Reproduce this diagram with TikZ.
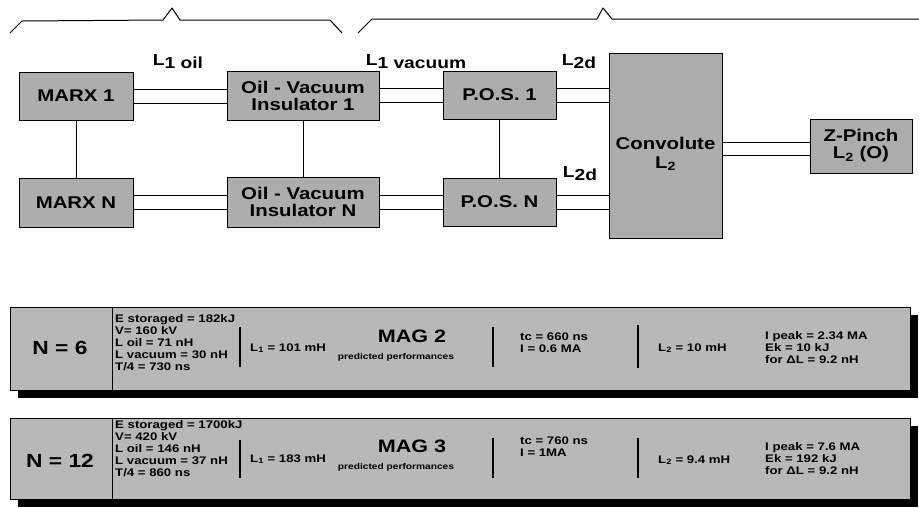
\documentclass[tikz,border=0pt]{standalone}
\usepackage{fontspec}
\setmainfont{Liberation Sans}[FakeStretch=1.2]
\definecolor{boxgray}{gray}{0.68}
\definecolor{tabgray}{gray}{0.72}
\begin{document}
\begin{tikzpicture}[x=1pt,y=-1pt,
  box/.style={draw=black, line width=0.9pt, fill=boxgray, align=center, inner sep=0pt,
    font=\fontsize{17}{17}\selectfont\bfseries},
  lbl/.style={inner sep=0pt, font=\fontsize{16}{16}\selectfont\bfseries},
  conn/.style={line width=0.9pt},
  brace/.style={line width=1pt, line join=round},
  tab/.style={draw=black, line width=0.9pt, fill=tabgray, inner sep=0pt, minimum width=900pt},
  shadowbox/.style={fill=black, inner sep=0pt, minimum width=900pt},
  small/.style={inner sep=0pt, align=left, anchor=west, font=\fontsize{11}{12}\selectfont\bfseries},
  big/.style={inner sep=0pt, font=\fontsize{19}{19}\selectfont\bfseries},
  mag/.style={inner sep=0pt, font=\fontsize{18}{18}\selectfont\bfseries},
  pred/.style={inner sep=0pt, font=\fontsize{8.5}{9}\selectfont\bfseries},
  divider/.style={line width=1.6pt}
]
\useasboundingbox (0,0) rectangle (919,507);

% braces
\draw[brace] (10,33) -- (22,21) -- (163,20) -- (172,8) -- (180,20) -- (330,20) -- (342,33);
\draw[brace] (358,33) -- (372,19) -- (597,19) -- (603,8) -- (612,19) -- (919,19);

% boxes
\node[box, minimum width=114pt, minimum height=48pt] (m1) at (76,96) {MARX 1};
\node[box, minimum width=114pt, minimum height=49pt] (mN) at (76,202.5) {MARX N};
\node[box, minimum width=152pt, minimum height=49pt] (i1) at (303,95.5) {Oil - Vacuum\\Insulator 1};
\node[box, minimum width=152pt, minimum height=50pt] (iN) at (303,202) {Oil - Vacuum\\Insulator N};
\node[box, minimum width=113pt, minimum height=48pt] (p1) at (499.5,95) {P.O.S. 1};
\node[box, minimum width=113pt, minimum height=48pt] (pN) at (499.5,202) {P.O.S. N};
\node[box, minimum width=113pt, minimum height=185pt] (cv) at (665.5,145.5) {\rule{0pt}{0pt}\\[12pt]Convolute\\[2pt]L\textsubscript{2}};
\node[box, minimum width=102pt, minimum height=54pt] (zp) at (861,146) {Z-Pinch\\L\textsubscript{2} (O)};

% labels
\node[lbl] (l1) at (178,62) {\raisebox{3pt}{L}1 oil};
\node[lbl] (l2) at (416,62) {\raisebox{3pt}{L}1 vacuum};
\node[lbl] (l3) at (579,62) {\raisebox{3pt}{L}2d};
\node[lbl] (l4) at (580,174) {\raisebox{3pt}{L}2d};

% double connectors
\foreach \s in {7,-7} {
  \draw[conn] ([yshift=\s pt]m1.east) -- ([yshift=\s pt]m1.east -| i1.west);
  \draw[conn] ([yshift=\s pt]mN.east) -- ([yshift=\s pt]mN.east -| iN.west);
  \draw[conn] ([yshift=\s pt]i1.east) -- ([yshift=\s pt]i1.east -| p1.west);
  \draw[conn] ([yshift=\s pt]iN.east) -- ([yshift=\s pt]iN.east -| pN.west);
  \draw[conn] ([yshift=\s pt]p1.east) -- ([yshift=\s pt]p1.east -| cv.west);
  \draw[conn] ([yshift=\s pt]pN.east) -- ([yshift=\s pt]pN.east -| cv.west);
}
\draw[conn] ([yshift=4pt]zp.west -| cv.east) -- ([yshift=4pt]zp.west);
\draw[conn] ([yshift=-9pt]zp.west -| cv.east) -- ([yshift=-9pt]zp.west);

% vertical links
\draw[conn] (m1.south) -- (mN.north);
\draw[conn] (i1.south) -- (iN.north);
\draw[conn] (p1.south) -- (pN.north);

% table 1
\node[shadowbox, minimum height=83pt] (s1) at (468,356.5) {};
\node[tab, minimum height=83pt] (t1) at (460,348.5) {};
\draw[conn] (112,307) -- (112,390);
\node[big] (n1) at (60,348) {N = 6};
\node[small] (a1) at (115,343) {E storaged = 182kJ\\V= 160 kV\\L oil = 71 nH\\L vacuum = 30 nH\\T/4 = 730 ns};
\draw[divider] (240,327) -- (240,367);
\node[small] (b1) at (250,348) {L\textsubscript{1} = 101 mH};
\node[mag] (c1) at (412,336) {MAG 2};
\node[pred] (d1) at (396,357) {predicted performances};
\draw[divider] (493,327) -- (493,367);
\node[small] (e1) at (520,343) {tc = 660 ns\\I = 0.6 MA};
\draw[divider] (638,325) -- (638,368);
\node[small] (f1) at (658,348) {L\textsubscript{2} = 10 mH};
\node[small] (g1) at (765,348) {I peak = 2.34 MA\\Ek = 10 kJ\\for ΔL = 9.2 nH};

% table 2
\node[shadowbox, minimum height=81pt] (s2) at (468,466.5) {};
\node[tab, minimum height=81pt] (t2) at (460,458.5) {};
\draw[conn] (112,418) -- (112,499);
\node[big] (n2) at (60,461) {N = 12};
\node[small] (a2) at (115,449) {E storaged = 1700kJ\\V= 420 kV\\L oil = 146 nH\\L vacuum = 37 nH\\T/4 = 860 ns};
\draw[divider] (240,440) -- (240,478);
\node[small] (b2) at (250,459) {L\textsubscript{1} = 183 mH};
\node[mag] (c2) at (412,446) {MAG 3};
\node[pred] (d2) at (396,467) {predicted performances};
\draw[divider] (493,438) -- (493,478);
\node[small] (e2) at (520,447) {tc = 760 ns\\I = 1MA};
\draw[divider] (638,438) -- (638,478);
\node[small] (f2) at (658,460) {L\textsubscript{2} = 9.4 mH};
\node[small] (g2) at (765,459) {I peak = 7.6 MA\\Ek = 192 kJ\\for ΔL = 9.2 nH};
\end{tikzpicture}
\end{document}
